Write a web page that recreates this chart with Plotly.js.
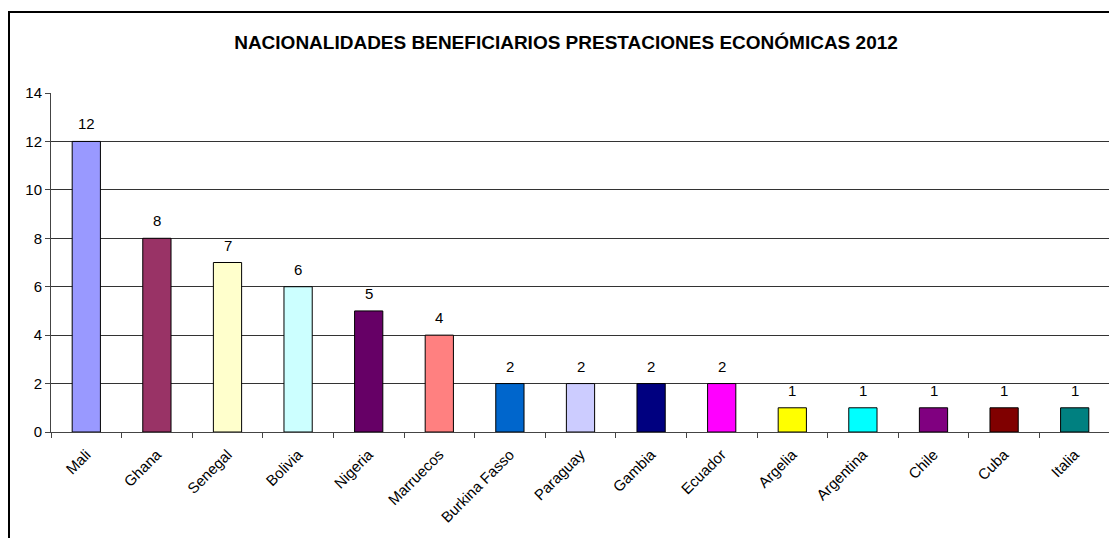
<!DOCTYPE html>
<html>
<head>
<meta charset="utf-8">
<script src="https://cdn.plot.ly/plotly-3.0.1.min.js"></script>
<style>
html,body{margin:0;padding:0;background:#fff;overflow:hidden;width:1109px;height:538px;}
#frame{position:absolute;left:8px;top:11px;width:1200px;height:600px;border:2px solid #000;box-sizing:border-box;pointer-events:none;z-index:10;}
#chart{position:absolute;left:0;top:0;}
</style>
</head>
<body>
<div id="chart"></div>
<div id="frame"></div>
<script>
const categories = ["Mali","Ghana","Senegal","Bolivia","Nigeria","Marruecos","Burkina Fasso","Paraguay","Gambia","Ecuador","Argelia","Argentina","Chile","Cuba","Italia"];
const values = [12,8,7,6,5,4,2,2,2,2,1,1,1,1,1];
const barColors = ["#9999FF","#993366","#FFFFCC","#CCFFFF","#660066","#FF8080","#0066CC","#CCCCFF","#000080","#FF00FF","#FFFF00","#00FFFF","#800080","#800000","#008080"];
const yTicks = [0,2,4,6,8,10,12,14];
const titleText = "NACIONALIDADES BENEFICIARIOS PRESTACIONES ECONÓMICAS 2012";

const font = "Liberation Sans, Arial, sans-serif";

const trace = {
  type: "bar",
  x: categories,
  y: values,
  marker: {color: barColors, line: {color: "#000", width: 1}},
  hoverinfo: "none"
};

const annotations = categories.map((c, i) => ({
  x: c, y: values[i], xref: "x", yref: "y",
  text: String(values[i]), showarrow: false,
  yanchor: "bottom", yshift: 7,
  font: {family: font, size: 15, color: "#000"}
}));

const W = 1120, H = 538;
const layout = {
  width: W, height: H,
  margin: {l: 51, r: 10, t: 93, b: 106},
  paper_bgcolor: "rgba(0,0,0,0)",
  plot_bgcolor: "#fff",
  bargap: 0.6,
  showlegend: false,
  title: {
    text: "<b>" + titleText + "</b>",
    font: {family: font, size: 19, color: "#000"},
    x: 566 / W, xref: "container", xanchor: "center",
    y: 1 - 42 / H, yref: "container", yanchor: "middle"
  },
  xaxis: {
    type: "category",
    tickangle: -45,
    ticks: "outside", ticklen: 5, tickcolor: "#444",
    tickson: "boundaries",
    ticklabelstandoff: 7,
    showline: true, linecolor: "#444", linewidth: 1,
    showgrid: false,
    tickfont: {family: font, size: 15, color: "#000"},
    fixedrange: true
  },
  yaxis: {
    range: [0, 14],
    tickvals: yTicks,
    ticks: "outside", ticklen: 5, tickcolor: "#444",
    showline: true, linecolor: "#444", linewidth: 1,
    showgrid: true, gridcolor: "#333", gridwidth: 1,
    zeroline: false,
    tickfont: {family: font, size: 15, color: "#000"},
    fixedrange: true
  },
  annotations: annotations,
  font: {family: font, color: "#000"}
};

Plotly.newPlot("chart", [trace], layout, {displayModeBar: false, staticPlot: true});
</script>
</body>
</html>
